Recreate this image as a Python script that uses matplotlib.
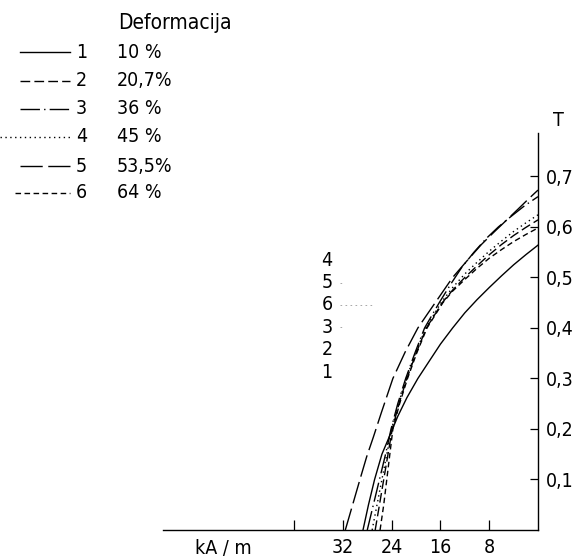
import matplotlib
matplotlib.use("Agg")
import matplotlib.pyplot as plt
from matplotlib.lines import Line2D

plt.rcParams['font.family'] = ['DejaVu Sans']
plt.rcParams['font.stretch'] = 'condensed'

# curve ids, deformation and line styles
curve_ids = ["1", "2", "3", "4", "5", "6"]
deformation = ["10 %", "20,7%", "36 %", "45 %", "53,5%", "64 %"]
styles = ['-', (0, (7, 3)), (0, (14, 3, 1, 3)), (0, (1, 2.5)), (0, (16, 4)), (0, (4, 2.5))]

# demagnetisation curves: H in kA/m (plotted to the left), B in T
H_1 = [28.7, 27.8, 26.8, 25.6, 24.2, 23.0, 21.5, 19.7, 17.8, 16.0, 14.0, 12.0, 10.0, 8.0, 6.0, 4.0, 2.0, 0.0]
B_1 = [0.0, 0.05, 0.10, 0.15, 0.19, 0.225, 0.262, 0.30, 0.335, 0.368, 0.40, 0.43, 0.456, 0.48, 0.503, 0.525, 0.545, 0.564]
H_2 = [26.7, 26.0, 25.3, 24.6, 23.9, 22.8, 21.5, 20.0, 18.3, 15.7, 14.0, 12.0, 10.0, 8.0, 6.0, 4.0, 2.0, 0.0]
B_2 = [0.0, 0.05, 0.10, 0.15, 0.20, 0.25, 0.30, 0.35, 0.40, 0.45, 0.475, 0.50, 0.523, 0.545, 0.565, 0.583, 0.599, 0.614]
H_3 = [28.0, 27.0, 26.0, 25.0, 24.1, 23.0, 21.7, 20.2, 18.6, 16.2, 14.3, 12.5, 10.5, 8.5, 6.5, 4.5, 2.2, 0.0]
B_3 = [0.0, 0.05, 0.10, 0.15, 0.20, 0.25, 0.30, 0.35, 0.40, 0.45, 0.487, 0.52, 0.55, 0.577, 0.60, 0.62, 0.642, 0.66]
H_4 = [27.2, 26.4, 25.6, 24.8, 24.0, 22.9, 21.6, 20.1, 18.4, 15.9, 14.0, 12.0, 10.0, 8.0, 6.0, 4.0, 2.0, 0.0]
B_4 = [0.0, 0.05, 0.10, 0.15, 0.20, 0.25, 0.30, 0.35, 0.40, 0.45, 0.48, 0.507, 0.53, 0.552, 0.572, 0.591, 0.608, 0.624]
H_5 = [31.6, 30.4, 29.2, 28.1, 27.0, 25.7, 23.8, 21.8, 19.7, 18.0, 16.4, 14.0, 11.5, 9.3, 7.2, 5.2, 3.3, 1.6, 0.0]
B_5 = [0.0, 0.05, 0.10, 0.145, 0.184, 0.232, 0.30, 0.352, 0.40, 0.43, 0.458, 0.50, 0.535, 0.565, 0.59, 0.613, 0.635, 0.655, 0.673]
H_6 = [25.9, 25.3, 24.8, 24.3, 23.8, 22.7, 21.4, 19.9, 18.2, 15.6, 14.0, 12.0, 10.0, 8.0, 6.0, 4.0, 2.0, 0.0]
B_6 = [0.0, 0.05, 0.10, 0.15, 0.20, 0.25, 0.30, 0.35, 0.40, 0.45, 0.473, 0.496, 0.518, 0.538, 0.555, 0.571, 0.585, 0.598]
H_all = [H_1, H_2, H_3, H_4, H_5, H_6]
B_all = [B_1, B_2, B_3, B_4, B_5, B_6]

x_ticks = [40, 32, 24, 16, 8]
x_labels = ["", "32", "24", "16", "8"]
y_ticks = [0.1, 0.2, 0.3, 0.4, 0.5, 0.6, 0.7]
y_labels = ["0,1", "0,2", "0,3", "0,4", "0,5", "0,6", "0,7"]
order_labels = ["4", "5", "6", "3", "2", "1"]

W, H = 576, 557
fig = plt.figure(figsize=(W / 100, H / 100), dpi=100)


def fx(px):
    return px / W


def fy(py):
    return 1 - py / H


ax = fig.add_axes([fx(163), fy(530), (538 - 163) / W, (530 - 133) / H])

for h, b, ls in zip(H_all, B_all, styles):
    ax.plot(h, b, color='black', linestyle=ls, linewidth=1.0)

ax.set_xlim(61.5, 0)
ax.set_ylim(0, 0.786)
for s in ['top', 'left']:
    ax.spines[s].set_visible(False)
ax.spines['right'].set_linewidth(1.0)
ax.spines['bottom'].set_linewidth(1.0)

ax.yaxis.tick_right()
ax.set_yticks(y_ticks)
ax.set_yticklabels(y_labels)
ax.set_xticks(x_ticks)
ax.set_xticklabels(x_labels)
ax.tick_params(axis='y', direction='in', length=6, width=0.9, pad=6, labelsize=14)
ax.tick_params(axis='x', direction='in', length=7, width=0.9, pad=6, labelsize=14)
ax.text(51.6, -0.036, "kA / m", ha='center', va='center', fontsize=14)
ax.text(-3.3, 0.81, "T", ha='center', va='center', fontsize=14)

# legend drawn by hand
fig.text(fx(118), fy(23), "Deformacija", ha='left', va='center', fontsize=15)
rows_y = [52, 81, 109, 137, 166, 193]
for i, (cid, d, ls) in enumerate(zip(curve_ids, deformation, styles)):
    y = fy(rows_y[i])
    x0 = 0 if cid == "4" else (15 if cid == "6" else 20)
    fig.add_artist(Line2D([fx(x0), fx(70)], [y, y], color='black',
                          linestyle=ls, linewidth=1.0))
    fig.text(fx(76), y, cid, ha='left', va='center', fontsize=14)
    fig.text(fx(117), y, d, ha='left', va='center', fontsize=14)

# curve id column inside the plot
for i, lab in enumerate(order_labels):
    fig.text(fx(327), fy(260 + i * 22.4), lab, ha='center', va='center', fontsize=14)
for y0, x0, x1 in [(283, 340, 345), (305, 340, 375), (327, 340, 343)]:
    fig.add_artist(Line2D([fx(x0), fx(x1)], [fy(y0), fy(y0)], color='#999999',
                          linestyle=(0, (2, 4)), linewidth=0.6))

fig.savefig("out.png", dpi=100)
